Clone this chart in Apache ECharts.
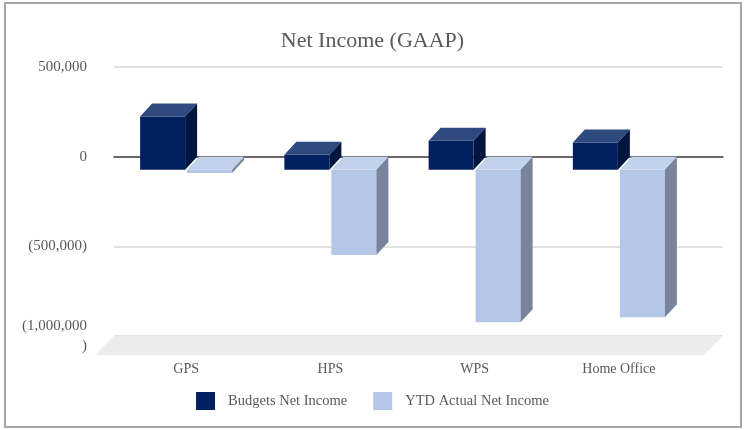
<!DOCTYPE html>
<html>
<head>
<meta charset="utf-8">
<title>Net Income (GAAP)</title>
<script src="https://cdn.jsdelivr.net/npm/echarts@6/dist/echarts.min.js"></script>
<style>
	html, body { margin: 0; padding: 0; background: #ffffff; }
	#effect { width: 745px; height: 430px; }
</style>
</head>
<body>
<div id="effect"></div>
<script>

var categories = ["GPS", "HPS", "WPS", "Home Office"];
var budgetValues = [296000, 83000, 161000, 152000];
var actualValues = [-18000, -476000, -851000, -823000];
var seriesNames = ["Budgets Net Income", "YTD Actual Net Income"];
var axisTicks = [-1000000, -500000, 0, 500000];

var serifFont = "'Liberation Serif', 'Times New Roman', serif";
var textColor = "#595959";

// depth of the 3d bars (px)
var DX = 12;
var DY = 13;

// front / top / side colours
var barColors = [
	{ front: "#002060", top: "#2f4a7e", side: "#00163f" },
	{ front: "#b4c7e7", top: "#c3d2ec", side: "#77849c" }
];

function formatTick(val) {
	if (val == 0) {
		return "0";
	}
	var s = Math.abs(val).toLocaleString("en-US");
	if (val < 0) {
		if (val <= -1000000) {
			return "(" + s + "\n)";
		}
		return "(" + s + ")";
	}
	return s;
}

function makeBarRender(side) {
	return function(params, api) {
		var cat = api.value(0);
		var v = api.value(1);
		var c = api.coord([cat, 0]);
		var band = api.size([1, 0])[0];
		var bw = band * 0.312;
		var gap = band * 0.007;
		var x0 = side == 0 ? c[0] - gap - bw : c[0] + gap;
		var x1 = x0 + bw;
		var yTop = api.coord([cat, Math.max(v, 0)])[1] + DY;
		var yBot = api.coord([cat, Math.min(v, 0)])[1] + DY;
		var col = barColors[side];
		return {
			type: "group",
			children: [
				{
					type: "rect",
					shape: { x: x0, y: yTop, width: bw, height: yBot - yTop },
					style: { fill: col.front }
				},
				{
					type: "polygon",
					shape: { points: [[x0, yTop], [x1, yTop], [x1 + DX, yTop - DY], [x0 + DX, yTop - DY]] },
					style: { fill: col.top }
				},
				{
					type: "polygon",
					shape: { points: [[x1, yTop], [x1 + DX, yTop - DY], [x1 + DX, yBot - DY], [x1, yBot]] },
					style: { fill: col.side }
				}
			]
		};
	};
}

function renderFloor(params, api) {
	var cs = params.coordSys;
	var back = api.coord([0, axisTicks[0]])[1];
	var d = 19;
	return {
		type: "polygon",
		shape: {
			points: [[cs.x, back], [cs.x + cs.width, back], [cs.x + cs.width - d, back + d], [cs.x - d, back + d]]
		},
		style: { fill: "#ececec" }
	};
}

var budgetData = [];
var actualData = [];
for (var i = 0; i < categories.length; i++) {
	budgetData.push([i, budgetValues[i]]);
	actualData.push([i, actualValues[i]]);
}

var effect = echarts.init(document.getElementById('effect'));
var effect_option = {
	backgroundColor: "#ffffff",
	animation: false,
	title: {
		text: "Net Income (GAAP)",
		left: "center",
		top: 25,
		textStyle: { fontFamily: serifFont, fontSize: 22, fontWeight: "normal", color: textColor }
	},
	legend: {
		data: seriesNames,
		bottom: null,
		top: 387,
		left: "center",
		itemWidth: 19,
		itemHeight: 18,
		itemGap: 26,
		icon: "rect",
		textStyle: { fontFamily: serifFont, fontSize: 14.5, color: textColor, padding: [0, 0, 0, 8] }
	},
	graphic: [{
		type: "rect",
		shape: { x: 5, y: 3, width: 736, height: 424 },
		style: { fill: null, stroke: "#a6a6a6", lineWidth: 2 },
		silent: true
	}],
	grid: [
		// bars (front plane)
		{ left: 114, right: 54, top: 67, bottom: 94 },
		// back wall
		{ left: 114, right: 22, top: 67, bottom: 94 }
	],
	xAxis: [
		{
			type: "category",
			gridIndex: 0,
			data: categories,
			axisLine: { show: false },
			axisTick: { show: false },
			axisLabel: { margin: 26, fontFamily: serifFont, fontSize: 14, color: textColor }
		},
		{
			type: "value",
			gridIndex: 1,
			min: 0,
			max: 1,
			axisLine: { show: true, onZero: true, lineStyle: { color: "#404040", width: 1.5 } },
			axisTick: { show: false },
			axisLabel: { show: false },
			splitLine: { show: false }
		}
	],
	yAxis: [
		{
			type: "value",
			gridIndex: 0,
			min: axisTicks[0],
			max: axisTicks[axisTicks.length - 1],
			interval: 500000,
			show: false
		},
		{
			type: "value",
			gridIndex: 1,
			min: axisTicks[0],
			max: axisTicks[axisTicks.length - 1],
			interval: 500000,
			axisLine: { show: false },
			axisTick: { show: false },
			axisLabel: {
				margin: 27,
				fontFamily: serifFont,
				fontSize: 15,
				lineHeight: 20,
				color: textColor,
				formatter: formatTick
			},
			splitLine: { show: true, lineStyle: { color: "#d9d9d9", width: 1.5 } }
		}
	],
	series: [
		{
			name: "floor",
			type: "custom",
			xAxisIndex: 1,
			yAxisIndex: 1,
			z: 1,
			silent: true,
			renderItem: renderFloor,
			data: [[0, axisTicks[0]]]
		},
		{
			name: seriesNames[0],
			type: "custom",
			xAxisIndex: 0,
			yAxisIndex: 0,
			itemStyle: { color: barColors[0].front },
			renderItem: makeBarRender(0),
			data: budgetData
		},
		{
			name: seriesNames[1],
			type: "custom",
			xAxisIndex: 0,
			yAxisIndex: 0,
			itemStyle: { color: barColors[1].front },
			renderItem: makeBarRender(1),
			data: actualData
		}
	]
};
effect.setOption(effect_option);

</script>
</body>
</html>
